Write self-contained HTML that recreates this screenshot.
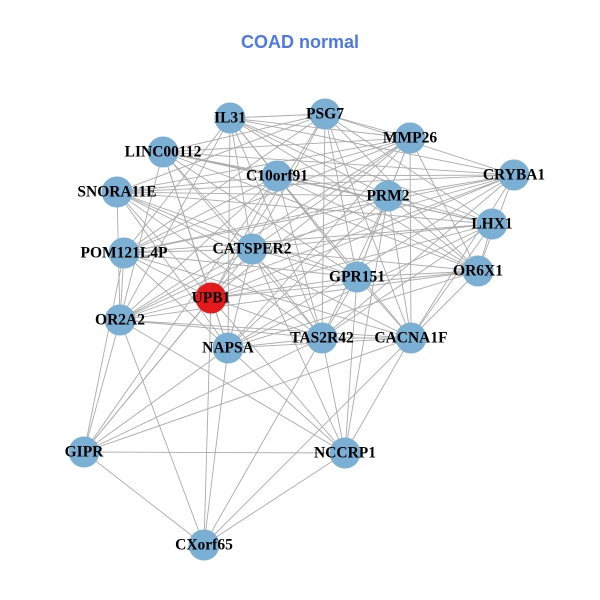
<!DOCTYPE html>
<html><head><meta charset="utf-8"><style>
html,body{margin:0;padding:0;background:#fff;width:600px;height:600px;overflow:hidden}
svg{display:block}
text.l{font-family:"Liberation Serif",serif;font-weight:bold;font-size:15.5px;fill:#000;text-anchor:middle;dominant-baseline:central}
</style></head><body>
<svg id="s" width="600" height="600" viewBox="0 0 600 600">
<text x="300" y="42" text-anchor="middle" dominant-baseline="central" font-family="Liberation Sans,sans-serif" font-weight="bold" font-size="18" fill="#4d79e6">COAD normal</text>
<g id="e" stroke="#aaaaaa" stroke-width="0.9"></g>
<g id="n" fill="#7bafd4"></g>
<g id="t">
<text class="l" x="230" y="118">IL31</text>
<text class="l" x="325" y="114">PSG7</text>
<text class="l" x="410" y="138">MMP26</text>
<text class="l" x="163" y="152">LINC00112</text>
<text class="l" x="277" y="176">C10orf91</text>
<text class="l" x="514" y="175">CRYBA1</text>
<text class="l" x="117" y="192">SNORA11E</text>
<text class="l" x="388" y="196">PRM2</text>
<text class="l" x="492" y="224">LHX1</text>
<text class="l" x="124" y="253">POM121L4P</text>
<text class="l" x="252" y="249">CATSPER2</text>
<text class="l" x="357" y="277">GPR151</text>
<text class="l" x="478" y="271">OR6X1</text>
<text class="l" x="211" y="298">UPB1</text>
<text class="l" x="120" y="320">OR2A2</text>
<text class="l" x="322" y="338">TAS2R42</text>
<text class="l" x="411" y="338">CACNA1F</text>
<text class="l" x="228" y="348">NAPSA</text>
<text class="l" x="84" y="452">GIPR</text>
<text class="l" x="345" y="453">NCCRP1</text>
<text class="l" x="204" y="545">CXorf65</text>
</g>
</svg>
<script>
var N=[[230,118],[325,114],[410,138],[163,152],[277,176],[514,175],[117,192],[388,196],[492,224],[124,253],[252,249],[357,277],[478,271],[211,298],[120,320],[322,338],[411,338],[228,348],[84,452],[345,453],[204,545]];
var ns="http://www.w3.org/2000/svg",E=document.getElementById("e"),G=document.getElementById("n");
function L(a,b){var l=document.createElementNS(ns,"line");l.setAttribute("x1",N[a][0]);l.setAttribute("y1",N[a][1]);l.setAttribute("x2",N[b][0]);l.setAttribute("y2",N[b][1]);E.appendChild(l);}
for(var i=0;i<18;i++)for(var j=i+1;j<18;j++){if(((i*7+j*13)%10)<8)L(i,j);}
var low=[[18,14],[18,9],[18,13],[18,17],[18,10],[18,19],[18,20],[18,16],[18,15],[18,4],[20,14],[20,17],[20,15],[20,16],[20,13],[20,19],[19,15],[19,16],[19,14],[19,17],[19,11],[19,10],[19,7],[19,13]];
low.forEach(function(p){L(p[0],p[1]);});
N.forEach(function(p,k){var c=document.createElementNS(ns,"circle");c.setAttribute("cx",p[0]);c.setAttribute("cy",p[1]);c.setAttribute("r",15.5);if(k==13)c.setAttribute("fill","#e41a1c");G.appendChild(c);});
</script>
</body></html>
